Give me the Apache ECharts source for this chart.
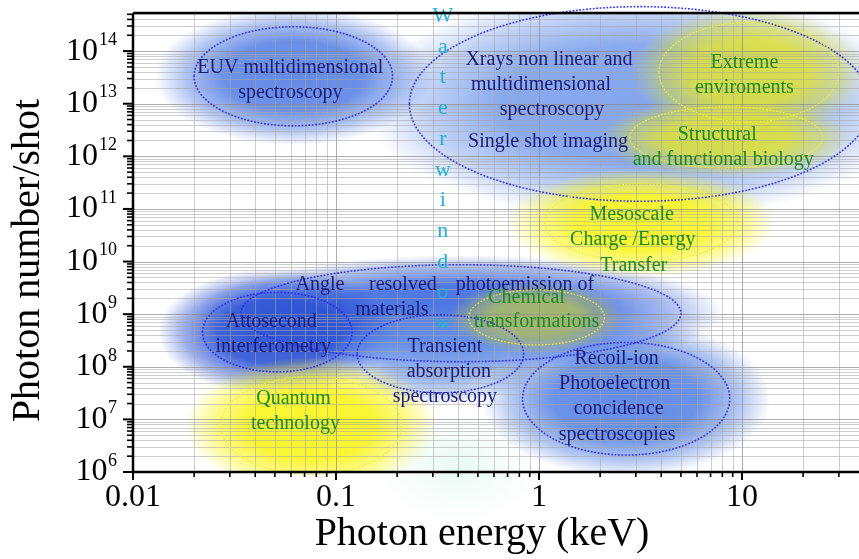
<!DOCTYPE html>
<html>
<head>
<meta charset="utf-8">
<script src="https://cdn.jsdelivr.net/npm/echarts@6/dist/echarts.min.js"></script>
<style>
  html, body { margin: 0; padding: 0; background: #ffffff; }
  #chart { width: 859px; height: 559px; }
</style>
</head>
<body>
<div id="chart"></div>
<script>
// ---- Data: application areas of an X-ray light source ----
// Each area spans a photon-energy range (keV) and a photon-number-per-shot range.
const regionLabels = [
  ['EUV multidimensional', 'spectroscopy'],
  ['Xrays non linear and', 'multidimensional', 'spectroscopy', 'Single shot imaging'],
  ['Angle', 'resolved', 'photoemission of', 'materials'],
  ['Attosecond', 'interferometry'],
  ['Transient', 'absorption', 'spectroscopy'],
  ['Recoil-ion', 'Photoelectron', 'concidence', 'spectroscopies'],
  ['Extreme', 'enviroments'],
  ['Structural', 'and functional biology'],
  ['Mesoscale', 'Charge /Energy', 'Transfer'],
  ['Chemical', 'transformations'],
  ['Quantum', 'technology']
];
const energyRange = [
  [0.020, 0.19],
  [0.23, 43],
  [0.034, 5.0],
  [0.022, 0.12],
  [0.127, 0.84],
  [0.83, 8.7],
  [3.9, 30],
  [2.8, 25],
  [1.07, 9.5],
  [0.45, 2.1],
  [0.027, 0.21]
];
const photonRange = [
  [3.8e12, 2.9e14],
  [1.4e11, 7.0e14],
  [1.25e8, 8.7e9],
  [8.0e7, 2.6e9],
  [3.2e7, 9.7e8],
  [2.1e6, 2.9e8],
  [4.5e12, 3.5e14],
  [6.0e11, 8.7e12],
  [1.0e10, 3.0e11],
  [2.6e8, 2.9e9],
  [9.0e5, 6.5e7]
];
const regionGroup = ['blue', 'blue', 'blue', 'blue', 'blue', 'blue',
                     'yellow', 'yellow', 'yellow', 'yellow', 'yellow'];

// Water window (carbon to oxygen K edges), labelled vertically
const waterWindowEnergy = 0.336;
const waterWindowTop = 4.6e14;
const waterWindowText = 'Waterwindow';

// Axis ranges and ticks
const xMin = 0.01, xMax = 37.7;
const yMin = 1e6, yMax = 5.3e14;
const xTickValues = [0.01, 0.1, 1, 10];
const xTickLabels = ['0.01', '0.1', '1', '10'];
const yTickExponents = [6, 7, 8, 9, 10, 11, 12, 13, 14];
const xTitle = 'Photon energy (keV)';
const yTitle = 'Photon number/shot';

// ---- Styling / layout (pixels) ----
const SERIF = '"Liberation Serif", "Times New Roman", serif';
const NAVY = '#1b1b78';
const GREEN = '#1e8a1e';
const regionStyle = [
  { rgb: [78, 122, 228],  a: 0.88, scale: 1.4,  labels: [[-3, -8.5], [-3, 16.5]] },
  { rgb: [110, 150, 235], a: 0.85, scale: 1.2,  labels: [[-91, -44.5], [-99, -19.5], [-88, 5.5], [-92, 37.5]] },
  { rgb: [55, 100, 222],  a: 0.9,  scale: 1.2,  labels: [[-141, -28.5], [-58, -28.5], [64, -28.5], [-69, -3.5]] },
  { rgb: [38, 78, 212],   a: 0.92, scale: 1.6,  labels: [[-6, -10.5], [-4, 14.5]] },
  { rgb: [105, 148, 232], a: 0.72, scale: 1.3,  labels: [[4.5, -7], [8.5, 18], [4.5, 43]] },
  { rgb: [72, 120, 226],  a: 0.85, scale: 1.4,  labels: [[-9.5, -40], [-11.5, -15], [-7.5, 10], [-9, 36]] },
  { rgb: [226, 228, 50],  a: 0.88, scale: 1.3,  labels: [[-4.5, -9.5], [-4.5, 15.5]] },
  { rgb: [226, 228, 50],  a: 0.88, scale: 1.3,  labels: [[-9, -2.5], [-3, 22.5]] },
  { rgb: [250, 245, 35],  a: 0.95, scale: 1.4,  labels: [[-9.5, -8], [-8.5, 17], [-7.5, 43]] },
  { rgb: [200, 210, 60],  a: 0.7,  scale: 1.3,  labels: [[-10, -19.5], [0, 4.5]] },
  { rgb: [250, 245, 35],  a: 0.97, scale: 1.4,  labels: [[-17.5, -27], [-15.5, -2]] }
];

function rgba(c, a) { return 'rgba(' + c[0] + ',' + c[1] + ',' + c[2] + ',' + a + ')'; }

function ellipseBox(api, i) {
  const p0 = api.coord([energyRange[i][0], photonRange[i][0]]);
  const p1 = api.coord([energyRange[i][1], photonRange[i][1]]);
  return {
    cx: (p0[0] + p1[0]) / 2, cy: (p0[1] + p1[1]) / 2,
    rx: Math.abs(p1[0] - p0[0]) / 2, ry: Math.abs(p1[1] - p0[1]) / 2
  };
}

// Series data: geometric centre of each region plus its index (blue first, yellow on top)
const order = regionLabels.map((_, i) => i)
  .sort((a, b) => (regionGroup[a] === regionGroup[b] ? a - b : (regionGroup[a] === 'blue' ? -1 : 1)));
const regionData = order.map(i => [
  Math.sqrt(energyRange[i][0] * energyRange[i][1]),
  Math.sqrt(photonRange[i][0] * photonRange[i][1]),
  i
]);

// Soft glow behind each region
function renderBlob(params, api) {
  const i = api.value(2);
  const b = ellipseBox(api, i);
  const s = regionStyle[i];
  const R = 100;
  return {
    type: 'circle',
    shape: { cx: 0, cy: 0, r: R },
    x: b.cx, y: b.cy,
    scaleX: b.rx * s.scale / R, scaleY: b.ry * s.scale / R,
    style: {
      fill: new echarts.graphic.RadialGradient(0.5, 0.5, 0.5, [
        { offset: 0, color: rgba(s.rgb, s.a) },
        { offset: 0.5, color: rgba(s.rgb, s.a * 0.95) },
        { offset: 0.78, color: rgba(s.rgb, s.a * 0.5) },
        { offset: 1, color: rgba(s.rgb, 0) }
      ])
    },
    silent: true
  };
}

// Faint light haze at the foot of the water window
function renderHaze(params, api) {
  const c = api.coord([waterWindowEnergy, yMin]);
  return {
    type: 'circle', shape: { cx: 0, cy: 0, r: 100 },
    x: c[0] + 15, y: c[1] - 5, scaleX: 0.8, scaleY: 0.55,
    style: {
      fill: new echarts.graphic.RadialGradient(0.5, 0.5, 0.5, [
        { offset: 0, color: 'rgba(215,245,235,0.55)' },
        { offset: 1, color: 'rgba(215,245,235,0)' }
      ])
    },
    silent: true
  };
}

// Logarithmic grid: a line at every 1..9 x 10^k
function renderGrid(params, api) {
  const children = [];
  const tl = api.coord([xMin, yMax]);
  const br = api.coord([xMax, yMin]);
  for (let e = -2; e <= 1; e++) {
    for (let m = 1; m <= 9; m++) {
      const v = m * Math.pow(10, e);
      if (v <= xMin || v > xMax) continue;
      const x = Math.round(api.coord([v, yMin])[0]) + 0.5;
      children.push({
        type: 'line', shape: { x1: x, y1: tl[1], x2: x, y2: br[1] },
        style: { stroke: m === 1 ? 'rgba(140,140,140,0.7)' : 'rgba(165,165,165,0.55)', lineWidth: 1 }
      });
    }
  }
  for (let e = 6; e <= 14; e++) {
    for (let m = 1; m <= 9; m++) {
      const v = m * Math.pow(10, e);
      if (v <= yMin || v > yMax) continue;
      const y = Math.round(api.coord([xMin, v])[1]) + 0.5;
      children.push({
        type: 'line', shape: { x1: tl[0], y1: y, x2: br[0], y2: y },
        style: { stroke: m === 1 ? 'rgba(140,140,140,0.7)' : 'rgba(165,165,165,0.55)', lineWidth: 1 }
      });
    }
  }
  return { type: 'group', children: children, silent: true };
}

// Dotted outline and text of each region
function renderRegion(params, api) {
  const i = api.value(2);
  const b = ellipseBox(api, i);
  const s = regionStyle[i];
  const blue = regionGroup[i] === 'blue';
  const children = [{
    type: 'ellipse',
    shape: { cx: b.cx, cy: b.cy, rx: b.rx, ry: b.ry },
    style: {
      fill: 'none',
      stroke: blue ? 'rgba(45,45,235,0.95)' : 'rgba(240,240,40,0.95)',
      lineWidth: blue ? 1.6 : 1.2,
      lineDash: [1.8, 1.6]
    }
  }];
  regionLabels[i].forEach((line, k) => {
    children.push({
      type: 'text',
      x: b.cx + s.labels[k][0], y: b.cy + s.labels[k][1],
      style: {
        text: line, fill: blue ? NAVY : GREEN,
        fontFamily: SERIF, fontSize: 20,
        align: 'center', verticalAlign: 'middle'
      }
    });
  });
  return { type: 'group', children: children, silent: true };
}

// Vertical "Water window" lettering
function renderWater(params, api) {
  const p = api.coord([waterWindowEnergy, waterWindowTop]);
  const children = waterWindowText.split('').map((ch, k) => ({
    type: 'text', x: p[0], y: p[1] + k * 30.7,
    style: { text: ch, fill: '#1fb2d2', fontFamily: SERIF, fontSize: 22, align: 'center', verticalAlign: 'middle' }
  }));
  return { type: 'group', children: children, silent: true };
}

// Frame, ticks, tick labels and axis titles
function renderFrame(params, api) {
  const children = [];
  const tl = api.coord([xMin, yMax]);
  const br = api.coord([xMax, yMin]);
  const x0 = tl[0], y0 = br[1];
  const black = '#000';
  children.push({ type: 'line', shape: { x1: x0, y1: y0, x2: br[0], y2: y0 }, style: { stroke: black, lineWidth: 2.5 } });
  children.push({ type: 'line', shape: { x1: x0, y1: y0 + 1, x2: x0, y2: tl[1] }, style: { stroke: black, lineWidth: 2.5 } });
  children.push({ type: 'line', shape: { x1: x0, y1: tl[1], x2: br[0], y2: tl[1] }, style: { stroke: black, lineWidth: 2.5 } });
  // x ticks
  for (let e = -2; e <= 1; e++) {
    for (let m = 1; m <= 9; m++) {
      const v = m * Math.pow(10, e);
      if (v < xMin || v > xMax) continue;
      const x = api.coord([v, yMin])[0];
      const len = m === 1 ? 8 : 5;
      children.push({ type: 'line', shape: { x1: x, y1: y0, x2: x, y2: y0 + len }, style: { stroke: black, lineWidth: m === 1 ? 2 : 1.6 } });
    }
  }
  // y ticks
  for (let e = 6; e <= 14; e++) {
    for (let m = 1; m <= 9; m++) {
      const v = m * Math.pow(10, e);
      if (v < yMin || v > yMax) continue;
      const y = api.coord([xMin, v])[1];
      const len = m === 1 ? 10 : 6;
      children.push({ type: 'line', shape: { x1: x0, y1: y, x2: x0 - len, y2: y }, style: { stroke: black, lineWidth: m === 1 ? 2 : 1.6 } });
    }
  }
  // x tick labels
  xTickValues.forEach((v, k) => {
    const x = api.coord([v, yMin])[0];
    children.push({
      type: 'text', x: x, y: y0 + 26,
      style: { text: xTickLabels[k], fill: black, fontFamily: SERIF, fontSize: 32, align: 'center', verticalAlign: 'middle' }
    });
  });
  // y tick labels: 10 with a superscript exponent
  yTickExponents.forEach(e => {
    const y = api.coord([xMin, Math.pow(10, e)])[1];
    const exp = String(e);
    const supRight = x0 - 16;
    const supW = exp.length * 9.5;
    children.push({
      type: 'text', x: supRight, y: y - 11,
      style: { text: exp, fill: black, fontFamily: SERIF, fontSize: 18, align: 'right', verticalAlign: 'middle' }
    });
    children.push({
      type: 'text', x: supRight - supW, y: y,
      style: { text: '10', fill: black, fontFamily: SERIF, fontSize: 32, align: 'right', verticalAlign: 'middle' }
    });
  });
  // axis titles
  children.push({
    type: 'text', x: (x0 + br[0]) / 2 - 14, y: y0 + 62,
    style: { text: xTitle, fill: black, fontFamily: SERIF, fontSize: 40, align: 'center', verticalAlign: 'middle' }
  });
  children.push({
    type: 'text', x: 28, y: (tl[1] + y0) / 2 + 18, rotation: Math.PI / 2,
    style: { text: yTitle, fill: black, fontFamily: SERIF, fontSize: 40, align: 'center', verticalAlign: 'middle' }
  });
  return { type: 'group', children: children, silent: true };
}

const anchor = [[1, 1e8]];
const chart = echarts.init(document.getElementById('chart'), null, { renderer: 'canvas' });
chart.setOption({
  animation: false,
  backgroundColor: '#ffffff',
  grid: { left: 133, top: 13, right: 0, bottom: 87, containLabel: false },
  xAxis: {
    type: 'log', logBase: 10, min: xMin, max: xMax,
    axisLine: { show: false }, axisTick: { show: false }, axisLabel: { show: false }, splitLine: { show: false }
  },
  yAxis: {
    type: 'log', logBase: 10, min: yMin, max: yMax,
    axisLine: { show: false }, axisTick: { show: false }, axisLabel: { show: false }, splitLine: { show: false }
  },
  series: [
    { type: 'custom', name: 'glow', data: regionData, renderItem: renderBlob, clip: true, z: 1 },
    { type: 'custom', name: 'haze', data: anchor, renderItem: renderHaze, clip: false, z: 1 },
    { type: 'custom', name: 'grid', data: anchor, renderItem: renderGrid, clip: true, z: 2 },
    { type: 'custom', name: 'regions', data: regionData, renderItem: renderRegion, clip: false, z: 3 },
    { type: 'custom', name: 'water', data: anchor, renderItem: renderWater, clip: false, z: 4 },
    { type: 'custom', name: 'frame', data: anchor, renderItem: renderFrame, clip: false, z: 5 }
  ]
});
</script>
</body>
</html>
